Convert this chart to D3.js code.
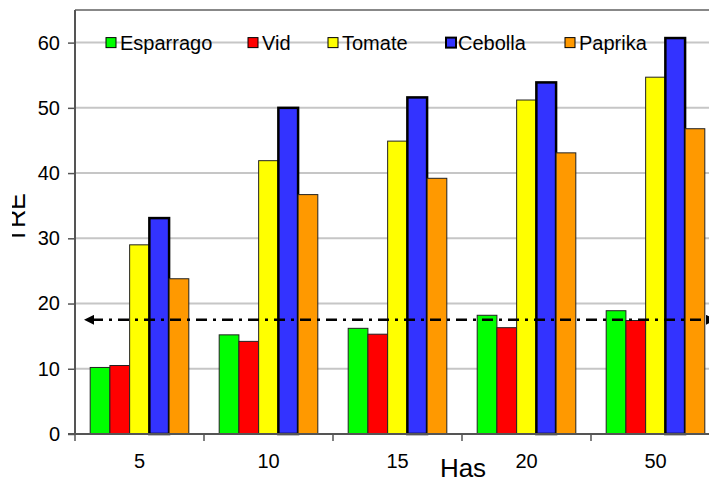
<!DOCTYPE html>
<html>
<head>
<meta charset="utf-8">
<script src="https://cdn.jsdelivr.net/npm/d3@7"></script>
<style>
  html, body { margin: 0; padding: 0; background: #fff; overflow: hidden; }
  svg { display: block; font-family: "Liberation Sans", Arial, sans-serif; }
</style>
</head>
<body>
<svg id="chart" width="709" height="482"></svg>
<script>
const categories = ["5", "10", "15", "20", "50"];
const seriesNames = ["Esparrago", "Vid", "Tomate", "Cebolla", "Paprika"];
const esparrago = [10.2, 15.2, 16.2, 18.2, 18.9];
const vid       = [10.5, 14.2, 15.3, 16.3, 17.4];
const tomate    = [29.0, 41.9, 44.9, 51.2, 54.7];
const cebolla   = [33.1, 50.0, 51.6, 53.9, 60.7];
const paprika   = [23.8, 36.7, 39.2, 43.1, 46.8];
const threshold = 17.5;
const yTicks = [0, 10, 20, 30, 40, 50, 60];
const yTitle = "TRE";
const xTitle = "Has";

const seriesValues = [esparrago, vid, tomate, cebolla, paprika];
const colors = ["#00ff00", "#ff0000", "#ffff00", "#3333ff", "#ff9900"];

const svg = d3.select("#chart");
const plot = { left: 75, right: 720, top: 10, bottom: 434 };

const x = d3.scaleBand().domain(categories).range([plot.left, plot.right]).padding(0);
const xi = d3.scaleBand().domain(seriesNames).range([0, x.bandwidth()])
  .paddingInner(0).paddingOuter(0.77);
const y = d3.scaleLinear().domain([0, 65]).range([plot.bottom, plot.top]);

// gridlines
svg.append("g").selectAll("line").data(yTicks.filter(d => d > 0)).join("line")
  .attr("x1", plot.left).attr("x2", plot.right)
  .attr("y1", d => y(d)).attr("y2", d => y(d))
  .attr("stroke", "#c6c6c6").attr("stroke-width", 2);

// top border
svg.append("line").attr("x1", plot.left).attr("x2", plot.right)
  .attr("y1", plot.top).attr("y2", plot.top)
  .attr("stroke", "#888").attr("stroke-width", 2);

// bars
const data = [];
categories.forEach((c, i) => seriesNames.forEach((s, j) => data.push({ c, s, j, v: seriesValues[j][i] })));
svg.append("g").selectAll("rect").data(data).join("rect")
  .attr("x", d => x(d.c) + xi(d.s))
  .attr("y", d => y(d.v))
  .attr("width", xi.bandwidth())
  .attr("height", d => y(0) - y(d.v))
  .attr("fill", d => colors[d.j])
  .attr("stroke", d => d.s === "Cebolla" ? "#000" : "#222")
  .attr("stroke-width", d => d.s === "Cebolla" ? 2.5 : 1);

// y axis
const yAxis = d3.axisLeft(y).tickValues(yTicks).tickSize(7).tickPadding(8).tickFormat(d3.format("d"));
const gy = svg.append("g").attr("transform", `translate(${plot.left},0)`).call(yAxis);
gy.select(".domain").attr("stroke", "#555").attr("stroke-width", 2)
  .attr("d", `M0,${plot.top}V${plot.bottom}`);
gy.selectAll(".tick line").attr("stroke", "#555").attr("stroke-width", 1.5);
gy.selectAll(".tick text").attr("font-size", 20).attr("fill", "#000")
  .attr("font-family", "Liberation Sans, Arial, sans-serif");

// x axis
const xAxis = d3.axisBottom(x).tickSize(0).tickPadding(20);
const gx = svg.append("g").attr("transform", `translate(0,${plot.bottom})`).call(xAxis);
gx.select(".domain").attr("stroke", "#555").attr("stroke-width", 2)
  .attr("d", `M${plot.left - 7},0H${plot.right}`);
gx.selectAll(".tick text").attr("font-size", 20).attr("fill", "#000")
  .attr("font-family", "Liberation Sans, Arial, sans-serif").attr("dy", "0.71em");
// boundary ticks
svg.append("g").selectAll("line").data(categories).join("line")
  .attr("x1", d => x(d)).attr("x2", d => x(d))
  .attr("y1", plot.bottom).attr("y2", plot.bottom + 7)
  .attr("stroke", "#555").attr("stroke-width", 1.5);

// threshold dash-dot line with arrows
const defs = svg.append("defs");
defs.append("marker").attr("id", "arrL").attr("viewBox", "0 0 10 10")
  .attr("refX", 2).attr("refY", 5).attr("markerWidth", 5).attr("markerHeight", 4)
  .attr("orient", "auto-start-reverse").attr("markerUnits", "strokeWidth")
  .append("path").attr("d", "M0,0L10,5L0,10Z").attr("fill", "#000");
defs.append("clipPath").attr("id", "titleClip").append("rect")
  .attr("x", 12).attr("y", 0).attr("width", 709).attr("height", 482);

svg.append("line")
  .attr("x1", 92).attr("x2", 708)
  .attr("y1", y(threshold)).attr("y2", y(threshold))
  .attr("stroke", "#000").attr("stroke-width", 2.5)
  .attr("stroke-dasharray", "11,6,3,6")
  .attr("marker-start", "url(#arrL)")
  .attr("marker-end", "url(#arrL)");

// legend
const legendX = [106, 248, 328, 446, 565];
const legendY = y(60);
const lg = svg.append("g").selectAll("g").data(seriesNames).join("g")
  .attr("transform", (d, i) => `translate(${legendX[i]},${legendY})`);
lg.append("rect").attr("x", 0).attr("y", -5).attr("width", 10).attr("height", 10)
  .attr("fill", (d, i) => colors[i])
  .attr("stroke", "#000").attr("stroke-width", (d, i) => d === "Cebolla" ? 2 : 1);
lg.append("text").attr("x", (d, i) => d === "Cebolla" ? 12 : 14).attr("y", 7)
  .attr("font-size", 20).attr("fill", "#000").text(d => d);

// axis titles
svg.append("g").attr("clip-path", "url(#titleClip)")
  .append("text")
  .attr("transform", `translate(25,218) rotate(-90)`)
  .attr("text-anchor", "middle").attr("font-size", 25).attr("fill", "#000")
  .text(yTitle);
svg.append("text").attr("x", 463).attr("y", 477)
  .attr("text-anchor", "middle").attr("font-size", 26).attr("fill", "#000")
  .text(xTitle);
</script>
</body>
</html>
